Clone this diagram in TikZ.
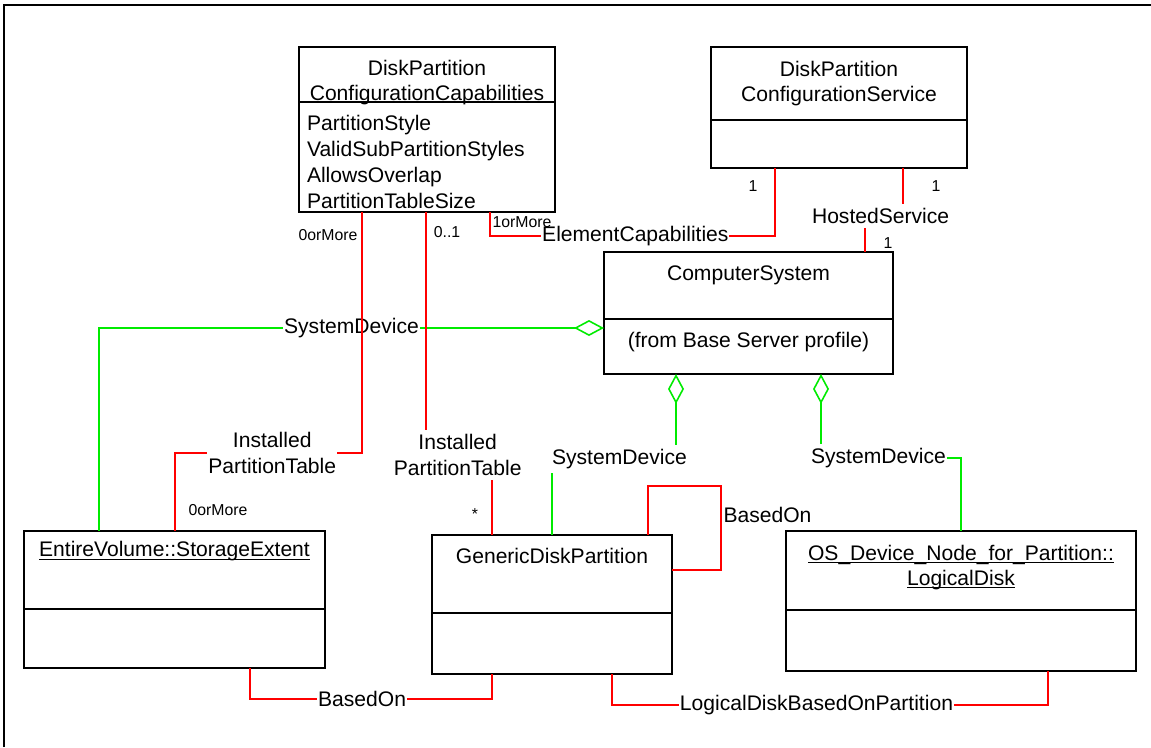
\documentclass[tikz,border=0pt]{standalone}
\usepackage{fontspec}
\setmainfont{Liberation Sans}
\usepackage{tikz}
\usetikzlibrary{positioning,arrows.meta}
\definecolor{linkred}{RGB}{255,0,0}
\definecolor{linkgreen}{RGB}{0,235,0}
\tikzset{
  classhead/.style args={#1,#2}{
  draw=black,
  line width=1.1pt,
  outer sep=0pt,
  inner sep=0pt,
  align=center,
  minimum width=#1 cm,
  minimum height=#2 cm,
  },
  tophead/.style={text height=9pt,text depth=#1},
  redlink/.style={draw=linkred,line width=0.9pt},
  greenlink/.style={draw=linkgreen,line width=0.9pt},
  aggr/.style={arrows={{Diamond[open,length=0.6cm,width=0.32cm]}-}},
  linklabel/.style={fill=white,inner xsep=0.5pt,inner ysep=2.5pt,align=center},
  mult/.style={font=\fontsize{9}{10}\selectfont,inner sep=0pt},
}

\begin{document}
\begin{tikzpicture}[x=0.02cm,y=-0.02cm,every node/.style={font=\fontsize{12}{14.4}\selectfont}]
  \useasboundingbox (0,0) rectangle (1151,747);
  \draw[line width=1.2pt] (4,747) -- (4,5) -- (1151,5);

  % classes
  \node[classhead={5.12,1.1},inner ysep=-4pt,anchor=north west] (capH) at (299,47) {\rule{0pt}{17.9pt}DiskPartition\\ConfigurationCapabilities};
  \node[classhead={5.12,2.2},below=0pt of capH,align=left,text width=4.8cm,font=\fontsize{12}{14.7}\selectfont] (capB) {\rule{0pt}{14.4pt}PartitionStyle\\ValidSubPartitionStyles\\AllowsOverlap\\PartitionTableSize};

  \node[classhead={5.12,1.46},anchor=north west] (svcH) at (711,47) {DiskPartition\\ConfigurationService};
  \node[classhead={5.12,0.96},below=0pt of svcH] (svcB) {};

  \node[classhead={5.78,1.34},tophead=0.52cm,anchor=north west] (csH) at (604,252) {ComputerSystem};
  \node[classhead={5.78,1.1},below=0pt of csH] (csB) {(from Base Server profile)\rule[-7pt]{0pt}{7pt}};

  \node[classhead={6.02,1.56},tophead=0.86cm,anchor=north west] (evH) at (24,531) {\underline{\smash{EntireVolume::StorageExtent}}};
  \node[classhead={6.02,1.18},below=0pt of evH] (evB) {};

  \node[classhead={4.8,1.56},tophead=0.74cm,anchor=north west] (gdpH) at (432,535) {GenericDiskPartition};
  \node[classhead={4.8,1.22},below=0pt of gdpH] (gdpB) {};

  \node[classhead={7.0,1.58},anchor=north west] (ldH) at (786,531) {\rule{0pt}{4.5pt}\underline{\smash{OS\_Device\_Node\_for\_Partition::}}\\\underline{\smash{LogicalDisk}}};
  \node[classhead={7.0,1.22},below=0pt of ldH] (ldB) {};

  % SystemDevice aggregations
  \draw[greenlink,aggr] (csB.west |- 0,328) -- node[linklabel] {SystemDevice} (99,328) -- (99,0 |- evH.north);
  \draw[greenlink,aggr] (676,0 |- csB.south) -- (676,459) -- node[linklabel,pos=0.456] {SystemDevice} (552,459) -- (552,0 |- gdpH.north);
  \draw[greenlink,aggr] (821,0 |- csB.south) -- (821,458) -- node[linklabel,pos=0.41] {SystemDevice} (961,458) -- (961,0 |- ldH.north);

  % associations
  \draw[redlink] (490,0 |- capB.south) -- (490,236) -- node[linklabel,pos=0.51] {ElementCapabilities} (775,236) -- (775,0 |- svcB.south);
  \draw[redlink] (903,0 |- svcB.south) -- (903,216) -- node[linklabel,pos=0.59] {HostedService} (865,216) -- (865,0 |- csH.north);
  \draw[redlink] (362,0 |- capB.south) -- (362,453) -- node[linklabel,pos=0.48] {Installed\\PartitionTable} (175,453) -- (175,0 |- evH.north);
  \draw[redlink] (426,0 |- capB.south) -- (426,455) -- node[linklabel,pos=0.48] {Installed\\PartitionTable} (492,455) -- (492,0 |- gdpH.north);
  \draw[redlink] (648,0 |- gdpH.north) -- (648,486) -- (721,486) -- node[right,inner xsep=1pt,pos=0.345] {BasedOn} (721,570) -- (gdpH.east |- 0,570);
  \draw[redlink] (250,0 |- evB.south) -- (250,699) -- node[linklabel,pos=0.463] {BasedOn} (492,699) -- (492,0 |- gdpB.south);
  \draw[redlink] (612,0 |- gdpB.south) -- (612,705) -- node[linklabel,pos=0.469] {LogicalDiskBasedOnPartition} (1048,705) -- (1048,0 |- ldB.south);

  % multiplicities
  \node[mult] (m1) at (328,235) {0orMore};
  \node[mult] (m2) at (447,232) {0..1};
  \node[mult] (m3) at (522,222) {1orMore};
  \node[mult] (m4) at (753,186) {1};
  \node[mult] (m5) at (936,186) {1};
  \node[mult] (m6) at (888,243) {1};
  \node[mult] (m7) at (218,510) {0orMore};
  \node[mult] (m8) at (475,514) {*};
\end{tikzpicture}
\end{document}
